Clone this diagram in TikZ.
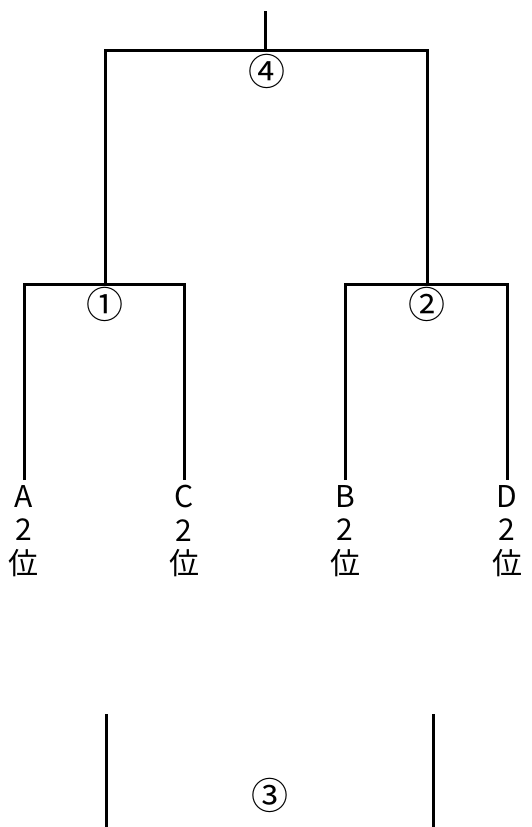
\documentclass[tikz,border=0pt]{standalone}
\usepackage{fontspec}
\setmainfont{Noto Sans CJK JP}
\begin{document}
\begin{tikzpicture}[x=1pt,y=-1pt,
  bline/.style={line width=3pt,line cap=butt},
  leaf/.style={align=center,inner sep=0pt,font=\fontsize{30}{33.5}\selectfont},
  num/.style={inner sep=0pt,font=\fontsize{37}{37}\selectfont}]
\useasboundingbox[fill=white] (0,0) rectangle (531,827);
% coordinates
\coordinate (top) at (265,11);
\coordinate (m4) at (265,50);
\coordinate (L4) at (105,50);
\coordinate (R4) at (427,50);
\coordinate (m1) at (105,284);
\coordinate (m2) at (427,284);
\coordinate (L1) at (24,284);
\coordinate (R1) at (184,284);
\coordinate (L2) at (345,284);
\coordinate (R2) at (507,284);
\coordinate (tA) at (24,480);
\coordinate (tC) at (184,480);
\coordinate (tB) at (345,480);
\coordinate (tD) at (507,480);
\coordinate (p3a) at (106,714);
\coordinate (q3a) at (106,827);
\coordinate (p3b) at (433,714);
\coordinate (q3b) at (433,827);
% labels
\node[num] (n4) at (267,71) {④};
\node[num] (n1) at (105,304) {①};
\node[num] (n2) at (427,304) {②};
\node[num] (n3) at (270,795) {③};
\node[leaf] (A) at (24,531) {A\\2\\位};
\node[leaf] (C) at (184,531) {C\\2\\位};
\node[leaf] (B) at (345,531) {B\\2\\位};
\node[leaf] (D) at (507,531) {D\\2\\位};
% lines
\draw[bline] (top) -- (m4);
\draw[bline] (m1) -- (L4) -- (R4) -- (m2);
\draw[bline] (tA) -- (L1) -- (R1) -- (tC);
\draw[bline] (tB) -- (L2) -- (R2) -- (tD);
\draw[bline] (p3a) -- (q3a);
\draw[bline] (p3b) -- (q3b);
\end{tikzpicture}
\end{document}
